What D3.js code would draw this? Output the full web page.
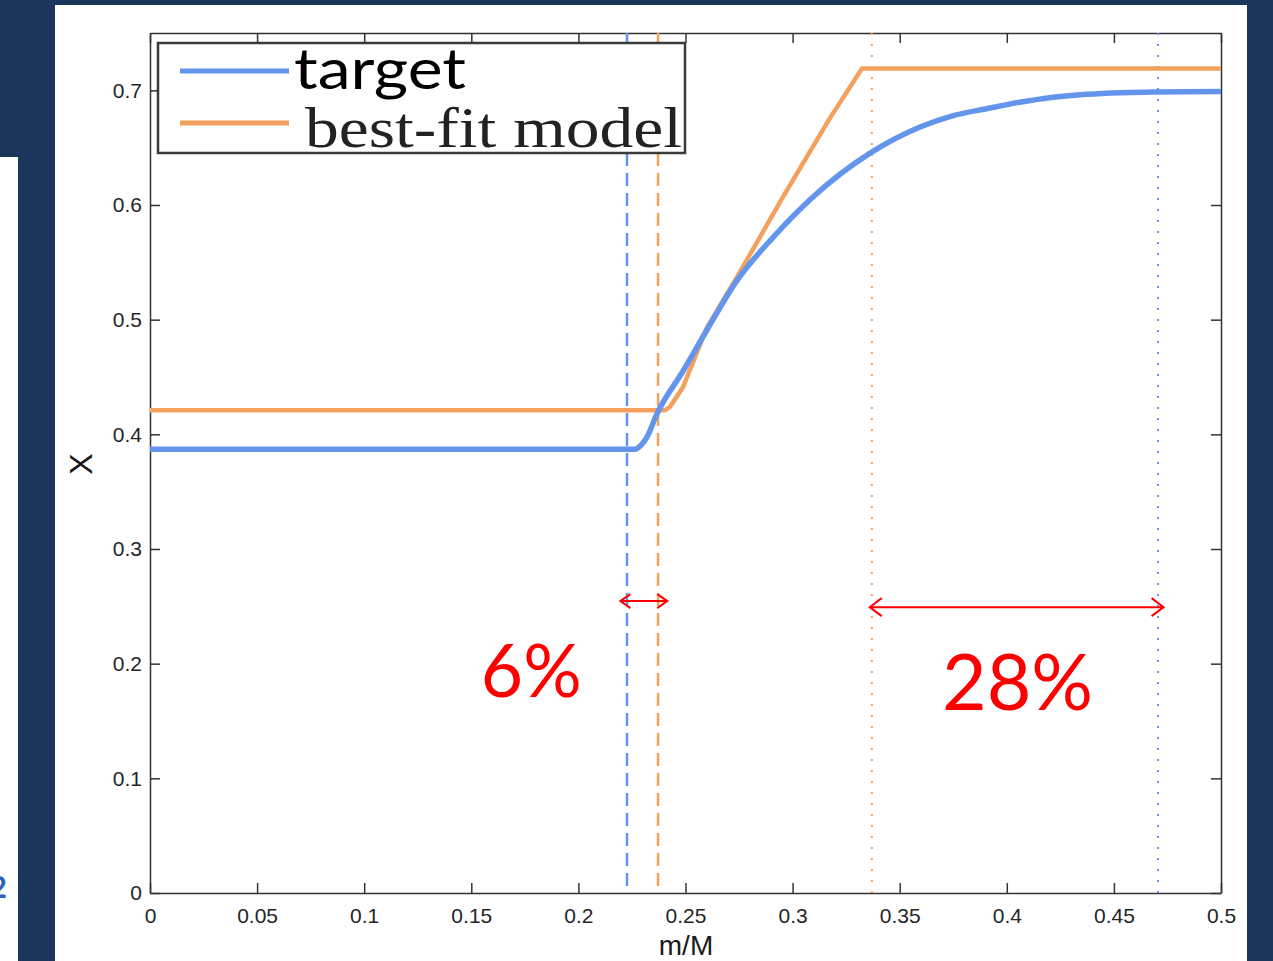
<!DOCTYPE html>
<html>
<head>
<meta charset="utf-8">
<script src="https://cdn.jsdelivr.net/npm/d3@7"></script>
<style>
  body { margin: 0; background: #1b365d; }
  svg { display: block; }
  .axis text { font-family: "Liberation Sans", Arial, sans-serif; font-size: 21px; fill: #262626; }
  .axis path, .axis line { stroke: #333; stroke-width: 1.5; }
</style>
</head>
<body>
<div id="plot"></div>
<script>
// x values (m/M) and X values
const targetX = [0, 0.2264, 0.229, 0.232, 0.2367, 0.2488, 0.260, 0.274, 0.291, 0.3095, 0.336, 0.3595, 0.375, 0.3906, 0.406, 0.4217, 0.4373, 0.4529, 0.468, 0.5];
const targetY = [0.387, 0.387, 0.390, 0.3976, 0.418, 0.455, 0.491, 0.534, 0.572, 0.607, 0.645, 0.668, 0.678, 0.684, 0.6896, 0.694, 0.6966, 0.698, 0.6985, 0.699];

const modelX = [0, 0.2404, 0.2428, 0.2488, 0.260, 0.274, 0.2955, 0.3175, 0.3324, 0.5];
const modelY = [0.421, 0.421, 0.424, 0.441, 0.493, 0.537, 0.607, 0.676, 0.719, 0.719];

// vertical marker lines
const markerX = [0.2227, 0.2372, 0.337, 0.4706];
const markerSeries = ["target", "model", "model", "target"];
const markerStyle = ["dashed", "dashed", "dotted", "dotted"];

// annotations
const arrowFrom = [0.2196, 0.336];
const arrowTo = [0.2415, 0.4732];
const arrowY = [0.2546, 0.2493];
const noteText = ["6%", "28%"];
const noteX = [0.178, 0.405];
const noteY = [0.171, 0.1595];

const xTicks = [0, 0.05, 0.1, 0.15, 0.2, 0.25, 0.3, 0.35, 0.4, 0.45, 0.5];
const xTickLabels = ["0", "0.05", "0.1", "0.15", "0.2", "0.25", "0.3", "0.35", "0.4", "0.45", "0.5"];
const yTicks = [0, 0.1, 0.2, 0.3, 0.4, 0.5, 0.6, 0.7];
const yTickLabels = ["0", "0.1", "0.2", "0.3", "0.4", "0.5", "0.6", "0.7"];

const legendLabels = ["target", "best-fit model"];

const W = 1273, H = 961;
const color = { target: "#6495ED", model: "#F4A15D" };

const svg = d3.select("#plot").append("svg")
  .attr("width", W).attr("height", H);

// slide background bits
svg.append("rect").attr("x", 55).attr("y", 5).attr("width", 1192).attr("height", H - 5).attr("fill", "#fff");
svg.append("rect").attr("x", 0).attr("y", 157).attr("width", 18).attr("height", H - 157).attr("fill", "#fff");
svg.append("text").attr("x", 7).attr("y", 898).attr("text-anchor", "end")
  .style("font-family", "Lato, sans-serif").style("font-size", "30px").style("font-weight", "bold")
  .attr("fill", "#2e62b5").text("2");

const pLeft = 150, pRight = 1221, pTop = 33, pBottom = 893;

const x = d3.scaleLinear().domain([0, 0.5]).range([pLeft, pRight]);
const y = d3.scaleLinear().domain([0, 0.75]).range([pBottom, pTop]);

// axes, ticks pointing inward, mirrored on top and right
svg.append("g").attr("class", "axis")
  .attr("transform", `translate(0,${pBottom})`)
  .call(d3.axisBottom(x).tickValues(xTicks).tickFormat((d, i) => xTickLabels[i])
    .tickSizeInner(-10).tickSizeOuter(0).tickPadding(15));

svg.append("g").attr("class", "axis")
  .attr("transform", `translate(0,${pTop})`)
  .call(d3.axisTop(x).tickValues(xTicks).tickFormat("")
    .tickSizeInner(-10).tickSizeOuter(0));

svg.append("g").attr("class", "axis")
  .attr("transform", `translate(${pLeft},0)`)
  .call(d3.axisLeft(y).tickValues(yTicks).tickFormat((d, i) => yTickLabels[i])
    .tickSizeInner(-10).tickSizeOuter(0).tickPadding(8));

svg.append("g").attr("class", "axis")
  .attr("transform", `translate(${pRight},0)`)
  .call(d3.axisRight(y).tickValues(yTicks).tickFormat("")
    .tickSizeInner(-10).tickSizeOuter(0));

// axis labels
svg.append("text")
  .attr("x", (pLeft + pRight) / 2 + 0.5).attr("y", 955)
  .attr("text-anchor", "middle")
  .style("font-family", "Liberation Sans, Arial, sans-serif").style("font-size", "28px").attr("fill", "#1a1a1a")
  .text("m/M");

svg.append("text")
  .attr("transform", `translate(92,${(pTop + pBottom) / 2 + 1}) rotate(-90)`)
  .attr("text-anchor", "middle")
  .style("font-family", "Liberation Sans, Arial, sans-serif").style("font-size", "32px").attr("fill", "#1a1a1a")
  .text("X");

// vertical marker lines
markerX.forEach((v, i) => {
  svg.append("line")
    .attr("x1", x(v)).attr("x2", x(v))
    .attr("y1", y(0.75)).attr("y2", y(0))
    .attr("stroke", color[markerSeries[i]])
    .attr("stroke-width", markerStyle[i] === "dashed" ? 2.5 : 2)
    .attr("stroke-dasharray", markerStyle[i] === "dashed" ? "13,7" : "2,9");
});

// curves
const line = d3.line().x(d => x(d[0])).y(d => y(d[1]));
const modelPts = modelX.map((v, i) => [v, modelY[i]]);
const targetPts = targetX.map((v, i) => [v, targetY[i]]);

svg.append("path").datum(modelPts)
  .attr("fill", "none").attr("stroke", color.model).attr("stroke-width", 4.5)
  .attr("stroke-linejoin", "round").attr("d", line);

svg.append("path").datum(targetPts)
  .attr("fill", "none").attr("stroke", color.target).attr("stroke-width", 5.5)
  .attr("stroke-linejoin", "round").attr("d", d3.line().curve(d3.curveMonotoneX).x(d => x(d[0])).y(d => y(d[1])));

// legend
const lg = svg.append("g");
lg.append("rect").attr("x", 158).attr("y", 43).attr("width", 527).attr("height", 110)
  .attr("fill", "#fff").attr("stroke", "#3a3a3a").attr("stroke-width", 2.5);
lg.append("line").attr("x1", 180).attr("x2", 289).attr("y1", 71).attr("y2", 71)
  .attr("stroke", color.target).attr("stroke-width", 5);
lg.append("line").attr("x1", 180).attr("x2", 289).attr("y1", 123).attr("y2", 123)
  .attr("stroke", color.model).attr("stroke-width", 5);
lg.append("text").attr("x", 294).attr("y", 89)
  .attr("textLength", 172).attr("lengthAdjust", "spacingAndGlyphs")
  .style("font-family", "Lato, sans-serif").style("font-size", "57px").attr("fill", "#000")
  .text(legendLabels[0]);
lg.append("text").attr("x", 305).attr("y", 147)
  .attr("textLength", 377).attr("lengthAdjust", "spacingAndGlyphs")
  .style("font-family", "Liberation Serif, serif").style("font-size", "58px").attr("fill", "#222")
  .text(legendLabels[1]);

// red annotations
arrowFrom.forEach((v, i) => {
  const x0 = x(v), x1 = x(arrowTo[i]), yy = y(arrowY[i]);
  const h = i === 0 ? 10 : 12, w = i === 0 ? 7 : 9;
  svg.append("path")
    .attr("d", `M${x0},${yy}L${x1},${yy}M${x0 + h},${yy - w}L${x0},${yy}L${x0 + h},${yy + w}M${x1 - h},${yy - w}L${x1},${yy}L${x1 - h},${yy + w}`)
    .attr("fill", "none").attr("stroke", "#ff0000").attr("stroke-width", 2);
});

noteText.forEach((t, i) => {
  svg.append("text")
    .attr("x", x(noteX[i])).attr("y", y(noteY[i]))
    .attr("text-anchor", "middle")
    .style("font-family", "Lato, sans-serif").style("font-size", i === 0 ? "73px" : "77px")
    .attr("fill", "#ff0000")
    .text(t);
});
</script>
</body>
</html>
